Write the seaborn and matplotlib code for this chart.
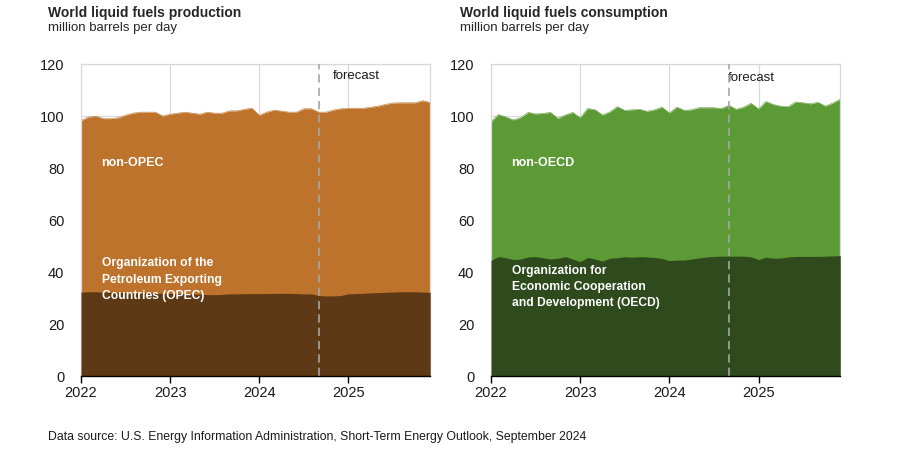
import numpy as np
import pandas as pd
import matplotlib
matplotlib.use("Agg")
import matplotlib.pyplot as plt
import seaborn as sns

# ---- data (million barrels per day, monthly Jan 2022 - Dec 2025) ----
months = pd.date_range("2022-01-01", "2025-12-01", freq="MS")
year_ticks = [2022, 2023, 2024, 2025]
forecast_start = "2024-09-01"

total_production = [98.2, 99.6, 99.9, 99.0, 99.0, 99.3, 100.3, 101.1, 101.5, 101.5, 101.5, 100.0,
                    100.7, 101.1, 101.5, 101.1, 100.7, 101.5, 101.1, 101.1, 102.0, 102.0, 102.6, 103.0,
                    100.3, 101.5, 102.3, 101.9, 101.5, 101.5, 102.8, 102.8, 101.5, 101.5, 102.3, 102.8,
                    103.0, 103.0, 103.0, 103.4, 103.8, 104.5, 105.0, 105.1, 105.1, 105.1, 105.9, 105.2]
opec_production = [32.3, 32.4, 32.4, 32.3, 32.2, 32.2, 32.1, 32.0, 32.0, 32.0, 31.9, 31.8,
                   31.8, 31.7, 31.7, 31.6, 31.5, 31.3, 31.3, 31.4, 31.6, 31.6, 31.7, 31.7,
                   31.7, 31.7, 31.8, 31.8, 31.8, 31.7, 31.6, 31.6, 31.0, 30.8, 30.8, 31.0,
                   31.6, 31.7, 31.8, 32.0, 32.1, 32.2, 32.3, 32.4, 32.4, 32.4, 32.3, 32.2]

total_consumption = [97.8, 100.6, 99.6, 98.5, 99.4, 101.4, 100.8, 101.0, 101.4, 99.1, 100.4, 101.4,
                     99.3, 102.9, 102.4, 100.4, 101.6, 103.6, 102.2, 102.4, 102.6, 101.8, 102.4, 103.4,
                     101.2, 103.4, 102.2, 102.4, 103.2, 103.2, 103.2, 102.9, 104.1, 102.6, 103.4, 104.9,
                     102.7, 105.6, 104.4, 103.8, 103.6, 105.4, 105.1, 104.7, 105.3, 103.8, 105.0, 106.5]
oecd_consumption = [44.5, 45.9, 45.5, 44.8, 45.0, 45.8, 45.9, 45.5, 45.0, 45.3, 45.9, 45.0,
                    44.0, 45.6, 45.0, 44.2, 45.3, 45.5, 45.9, 45.7, 45.9, 45.8, 45.6, 45.2,
                    44.4, 44.6, 44.6, 45.0, 45.4, 45.8, 46.0, 46.1, 46.1, 46.1, 46.1, 45.8,
                    44.8, 45.7, 45.3, 45.4, 45.8, 46.0, 46.0, 46.0, 46.0, 46.1, 46.2, 46.3]

titles = ["World liquid fuels production", "World liquid fuels consumption"]
subtitle = "million barrels per day"
upper_labels = ["non-OPEC", "non-OECD"]
lower_labels = ["Organization of the\nPetroleum Exporting\nCountries (OPEC)",
                "Organization for\nEconomic Cooperation\nand Development (OECD)"]
source = "Data source: U.S. Energy Information Administration, Short-Term Energy Outlook, September 2024"

colors_upper = ["#BD732B", "#5C9A35"]
colors_lower = ["#5E3915", "#2F4A1C"]

# ---- style ----
sns.set_theme(style="white")
plt.rcParams["font.family"] = ["Liberation Sans", "DejaVu Sans"]

fig = plt.figure(figsize=(9, 4.5), dpi=100)
ax_left = fig.add_axes([0.09, 0.1644, 0.388, 0.6933])
ax_right = fig.add_axes([0.5456, 0.1644, 0.388, 0.6933])

def to_dec(d):
    d = pd.Timestamp(d)
    return d.year + (d.month - 1) / 12.0

xdec = np.array([to_dec(d) for d in months])
fc = to_dec(forecast_start)

panels = [
    (ax_left, total_production, opec_production, 0),
    (ax_right, total_consumption, oecd_consumption, 1),
]

for ax, total, lower, i in panels:
    df = pd.DataFrame({"x": xdec, "total": total, "lower": lower})
    ax.fill_between(df["x"], 0, df["total"], color=colors_upper[i], lw=0, zorder=2)
    ax.fill_between(df["x"], 0, df["lower"], color=colors_lower[i], lw=0, zorder=3)
    sns.lineplot(data=df, x="x", y="total", ax=ax, color=colors_upper[i], lw=0.4, zorder=2)
    ax.set_xlim(xdec[0], xdec[-1])
    ax.set_ylim(0, 120)
    ax.set_yticks(range(0, 121, 20))
    ax.set_xticks(year_ticks)
    ax.set_xticklabels([str(y) for y in year_ticks])
    ax.set_xlabel("")
    ax.set_ylabel("")
    ax.grid(True, color="#D9D9D9", lw=0.9, zorder=0)
    ax.set_axisbelow(True)
    for s in ["top", "right", "left"]:
        ax.spines[s].set_color("#D9D9D9")
        ax.spines[s].set_linewidth(0.9)
    ax.spines["bottom"].set_color("black")
    ax.spines["bottom"].set_linewidth(1.0)
    ax.spines["bottom"].set_zorder(5)
    ax.tick_params(axis="x", bottom=True, length=5, width=1, color="black",
                   labelsize=10.5, pad=2, labelcolor="#1a1a1a")
    ax.tick_params(axis="y", left=False, labelsize=10.5, pad=6, labelcolor="#1a1a1a")
    ax.axvline(fc, color="#A6A6A6", lw=1.2, ls=(0, (5, 3)), zorder=4)
    ax.text(2022.23, 82, upper_labels[i], color="white", fontsize=9, fontweight="bold",
            va="center", ha="left", zorder=6)

ax_left.text(2022.23, 45.6, lower_labels[0], color="white", fontsize=8.7, fontweight="bold",
             va="top", ha="left", linespacing=1.45, zorder=6)
ax_right.text(2022.23, 42.8, lower_labels[1], color="white", fontsize=8.7, fontweight="bold",
              va="top", ha="left", linespacing=1.45, zorder=6)
ax_left.text(2024.82, 115.5, "forecast", fontsize=9.5, color="#1a1a1a", va="center", ha="left")
ax_right.text(2024.66, 114.5, "forecast", fontsize=9.5, color="#1a1a1a", va="center", ha="left")

fig.text(48 / 900, 1 - 13 / 450, titles[0], fontsize=10, fontweight="bold", va="center", ha="left")
fig.text(48 / 900, 1 - 28 / 450, subtitle, fontsize=9.5, va="center", ha="left")
fig.text(460 / 900, 1 - 13 / 450, titles[1], fontsize=10, fontweight="bold", va="center", ha="left")
fig.text(460 / 900, 1 - 28 / 450, subtitle, fontsize=9.5, va="center", ha="left")
fig.text(48 / 900, 1 - 437 / 450, source, fontsize=8.8, va="center", ha="left", color="#1a1a1a")

fig.savefig("out.png", dpi=100)
